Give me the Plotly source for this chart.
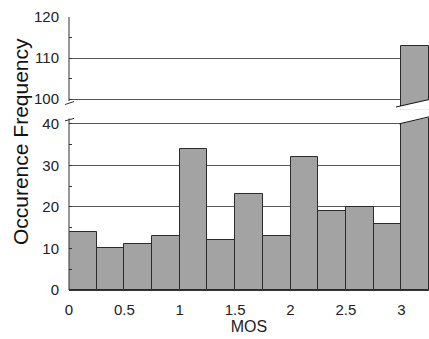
import plotly.graph_objects as go

# ---- data ----
bin_start = [0.0, 0.25, 0.5, 0.75, 1.0, 1.25, 1.5, 1.75, 2.0, 2.25, 2.5, 2.75, 3.0]
bin_width = 0.25
counts = [14, 10, 11, 13, 34, 12, 23, 13, 32, 19, 20, 16, 113]
x_ticks = [0, 0.5, 1, 1.5, 2, 2.5, 3]
x_tick_text = ["0", "0.5", "1", "1.5", "2", "2.5", "3"]
y_low_ticks = [0, 10, 20, 30, 40]
y_high_ticks = [100, 110, 120]

centers = [b + bin_width / 2 for b in bin_start]

REG = "Liberation Sans, Arial, sans-serif"
BAR_FILL = "#a3a3a3"
BAR_LINE = "#2a2a2a"
GRID = "#555555"
AX = "#333333"

fig = go.Figure()
for xa, ya in (("x", "y"), ("x2", "y2")):
    fig.add_trace(go.Bar(
        x=centers, y=counts, width=bin_width, xaxis=xa, yaxis=ya,
        marker=dict(color=BAR_FILL, line=dict(color=BAR_LINE, width=1)),
        showlegend=False, hoverinfo="skip",
    ))

LOW_TOP = 41.9
HIGH_BOT = 97.5

yax_common = dict(
    showgrid=True, gridcolor=GRID, gridwidth=1, zeroline=False, showline=False,
    ticks="inside", ticklen=3, tickcolor=AX,
    minor=dict(dtick=5, ticks="inside", ticklen=3, tickcolor=AX, showgrid=False),
    tickfont=dict(family=REG, size=15, color="#222"),
    ticklabelstandoff=9,
)

fig.update_layout(
    width=429, height=339,
    margin=dict(l=69, r=0, t=17, b=49),
    paper_bgcolor="white", plot_bgcolor="white",
    bargap=0,
    xaxis=dict(
        domain=[0, 1], range=[0, 3.25], anchor="y",
        tickvals=x_ticks, ticktext=x_tick_text,
        showgrid=False, zeroline=False, showline=True, linecolor=AX, linewidth=1,
        ticks="", tickfont=dict(family=REG, size=15, color="#222"),
        ticklabelstandoff=6,
        title=dict(text="MOS", font=dict(family=REG, size=16, color="#222"), standoff=1),
    ),
    xaxis2=dict(
        domain=[0, 1], range=[0, 3.25], anchor="y2", matches="x",
        showgrid=False, zeroline=False, showline=False, showticklabels=False, ticks="",
    ),
    yaxis=dict(domain=[0, 0.6374], range=[0, LOW_TOP], tickvals=y_low_ticks, **yax_common),
    yaxis2=dict(domain=[0.662, 1], range=[HIGH_BOT, 120.05], tickvals=y_high_ticks, **yax_common),
)

shapes = []
# y axis lines (broken)
shapes.append(dict(type="line", xref="paper", yref="y", x0=0, x1=0, y0=0, y1=41.3,
                   line=dict(color=AX, width=1)))
shapes.append(dict(type="line", xref="paper", yref="y2", x0=0, x1=0, y0=99.5, y1=120.05,
                   line=dict(color=AX, width=1)))
# break marks on the axis
shapes.append(dict(type="line", xref="paper", yref="y2", x0=-0.011, x1=0.014, y0=98.66, y1=99.39,
                   line=dict(color=AX, width=1)))
shapes.append(dict(type="line", xref="paper", yref="y", x0=-0.011, x1=0.014, y0=40.72, y1=41.33,
                   line=dict(color=AX, width=1)))
# slanted cut of the tall bar, upper panel
shapes.append(dict(type="path", xref="x2", yref="y2", layer="above",
                   path="M 2.952,98.05 L 3.3,100.2 L 3.3,97.0 L 2.952,97.0 Z",
                   fillcolor="white", line=dict(width=0)))
shapes.append(dict(type="line", xref="x2", yref="y2", layer="above",
                   x0=2.952, y0=98.05, x1=3.25, y1=99.88, line=dict(color="#111", width=1)))
# slanted cut of the tall bar, lower panel
shapes.append(dict(type="path", xref="x", yref="y", layer="above",
                   path="M 2.979,40.0 L 3.3,41.8 L 3.3,43 L 2.979,43 Z",
                   fillcolor="white", line=dict(width=0)))
shapes.append(dict(type="line", xref="x", yref="y", layer="above",
                   x0=2.979, y0=40.0, x1=3.25, y1=41.69, line=dict(color="#111", width=1)))
fig.update_layout(shapes=shapes)

fig.add_annotation(
    text="Occurence Frequency", xref="paper", yref="paper",
    x=-0.136, y=0.542, xanchor="center", yanchor="middle",
    textangle=-90, showarrow=False,
    font=dict(family=REG, size=21, color="#111"),
)

fig.write_html("out.html")
